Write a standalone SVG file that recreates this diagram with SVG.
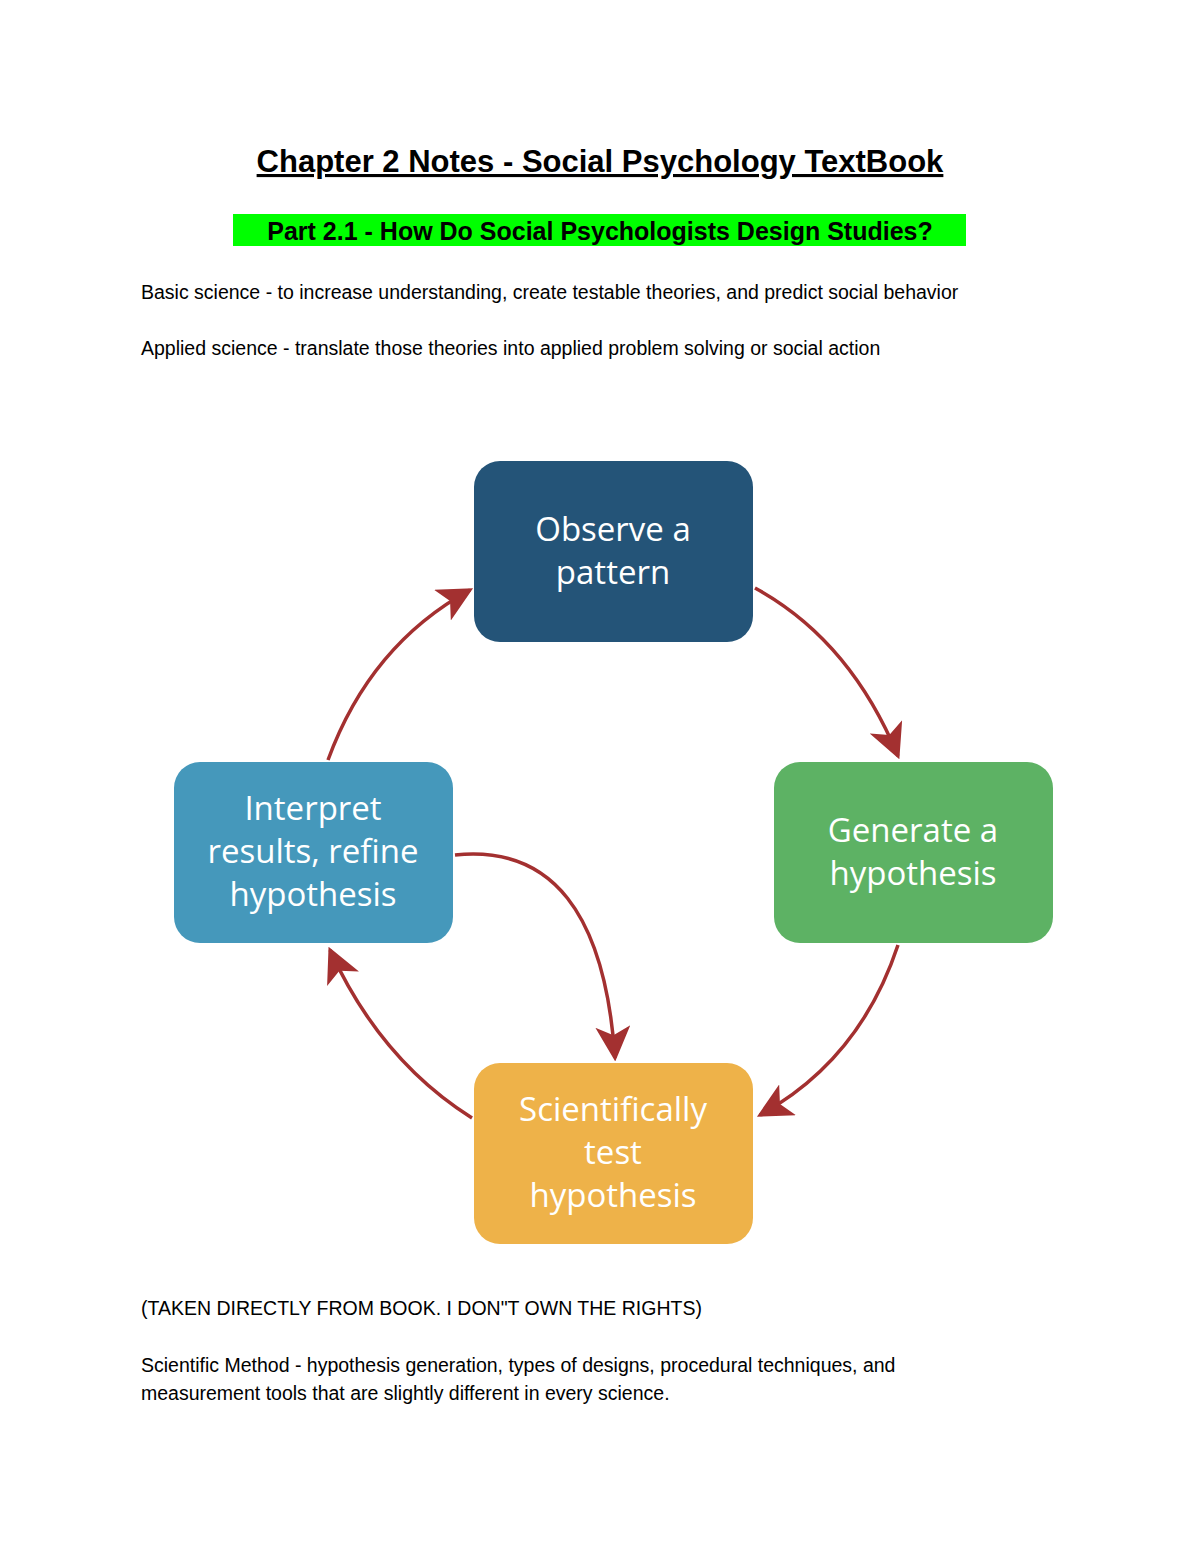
<svg xmlns="http://www.w3.org/2000/svg" width="1200" height="1553" viewBox="0 0 1200 1553">
<style>
.b{font-family:"Liberation Sans",Arial,sans-serif;font-size:19.5px;fill:#000}
.n{font-family:"Open Sans","Liberation Sans",sans-serif;font-size:33px;fill:#fff;text-anchor:middle}
.c{fill:none;stroke:#a33030;stroke-width:3.5}
</style>
<defs>
<marker id="ah" viewBox="0 0 20 20" refX="18" refY="10" markerWidth="10" markerHeight="10" markerUnits="strokeWidth" orient="auto">
<path d="M0,0 L20,10 L0,20 L5,10 Z" fill="#a33030"/>
</marker>
</defs>
<rect width="1200" height="1553" fill="#fff"/>
<text x="600" y="172" text-anchor="middle" font-family="Liberation Sans,Arial,sans-serif" font-size="31" font-weight="bold" text-decoration="underline">Chapter 2 Notes - Social Psychology TextBook</text>
<rect x="233" y="214" width="733" height="32" fill="#00ff00"/>
<text x="600" y="240" text-anchor="middle" font-family="Liberation Sans,Arial,sans-serif" font-size="25" font-weight="bold">Part 2.1 - How Do Social Psychologists Design Studies?</text>
<text class="b" x="141" y="299">Basic science - to increase understanding, create testable theories, and predict social behavior</text>
<text class="b" x="141" y="355">Applied science - translate those theories into applied problem solving or social action</text>
<g id="connectors">
<path class="c" d="M755,588 Q850,640 898,756" marker-end="url(#ah)"/>
<path class="c" d="M898,945 Q860,1060 760,1115" marker-end="url(#ah)"/>
<path class="c" d="M472,1118 Q380,1060 330,950" marker-end="url(#ah)"/>
<path class="c" d="M328,760 Q370,645 470,590" marker-end="url(#ah)"/>
<path class="c" d="M455,855 Q600,840 615,1058" marker-end="url(#ah)"/>
</g>
<g id="observe"><rect x="474" y="461" width="279" height="181" rx="26" fill="#245478"/>
<text class="n" x="613" y="541">Observe a</text><text class="n" x="613" y="584">pattern</text></g>
<g id="generate"><rect x="774" y="762" width="279" height="181" rx="26" fill="#5db264"/>
<text class="n" x="913" y="842">Generate a</text><text class="n" x="913" y="885">hypothesis</text></g>
<g id="interpret"><rect x="174" y="762" width="279" height="181" rx="26" fill="#4598bb"/>
<text class="n" x="313" y="820">Interpret</text><text class="n" x="313" y="863">results, refine</text><text class="n" x="313" y="906">hypothesis</text></g>
<g id="test"><rect x="474" y="1063" width="279" height="181" rx="26" fill="#eeb249"/>
<text class="n" x="613" y="1121">Scientifically</text><text class="n" x="613" y="1164">test</text><text class="n" x="613" y="1207">hypothesis</text></g>
<text class="b" x="141" y="1315">(TAKEN DIRECTLY FROM BOOK. I DON"T OWN THE RIGHTS)</text>
<text class="b" x="141" y="1372">Scientific Method - hypothesis generation, types of designs, procedural techniques, and</text>
<text class="b" x="141" y="1400">measurement tools that are slightly different in every science.</text>
</svg>
